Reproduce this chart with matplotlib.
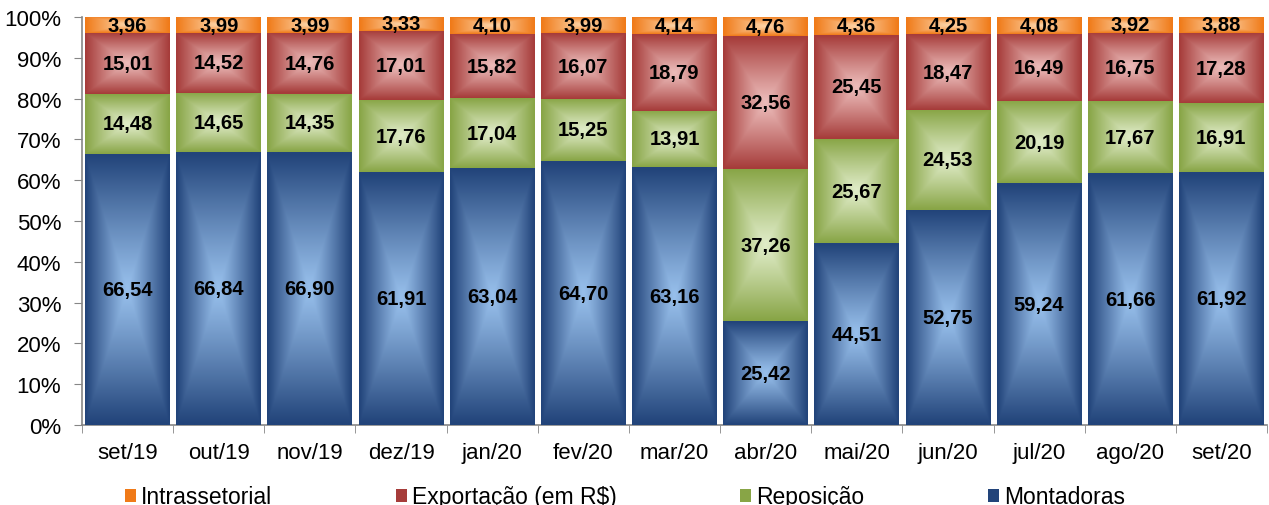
import numpy as np
import matplotlib
matplotlib.use('Agg')
import matplotlib.pyplot as plt
from matplotlib.colors import to_rgb
from matplotlib.patches import Rectangle

plt.rcParams['font.family'] = ['Liberation Sans', 'DejaVu Sans']

months = ['set/19', 'out/19', 'nov/19', 'dez/19', 'jan/20', 'fev/20', 'mar/20',
          'abr/20', 'mai/20', 'jun/20', 'jul/20', 'ago/20', 'set/20']
montadoras = [66.54, 66.84, 66.90, 61.91, 63.04, 64.70, 63.16, 25.42, 44.51, 52.75, 59.24, 61.66, 61.92]
reposicao = [14.48, 14.65, 14.35, 17.76, 17.04, 15.25, 13.91, 37.26, 25.67, 24.53, 20.19, 17.67, 16.91]
exportacao = [15.01, 14.52, 14.76, 17.01, 15.82, 16.07, 18.79, 32.56, 25.45, 18.47, 16.49, 16.75, 17.28]
intrassetorial = [3.96, 3.99, 3.99, 3.33, 4.10, 3.99, 4.14, 4.76, 4.36, 4.25, 4.08, 3.92, 3.88]

series = [
    ('Montadoras', montadoras, '#22447a', '#98c0ec'),
    ('Reposição', reposicao, '#88a546', '#e0ecc8'),
    ('Exportação (em R$)', exportacao, '#a63c3a', '#ecbcba'),
    ('Intrassetorial', intrassetorial, '#f07a18', '#fdd4a8'),
]

# pillow-style gradient (light centre, dark edges)
n = 64
u = np.linspace(-1, 1, n)
U, V = np.meshgrid(u, u)
T = np.maximum(np.abs(U), np.abs(V)) ** 1.1


def grad_img(edge, centre):
    e = np.array(to_rgb(edge))
    c = np.array(to_rgb(centre))
    return c[None, None, :] * (1 - T[..., None]) + e[None, None, :] * T[..., None]


fig = plt.figure(figsize=(12.69, 5.06), dpi=100)
ax = fig.add_axes([82 / 1269, 1 - 426 / 506, 1185 / 1269, 408 / 506])

x = np.arange(len(months))
bottom = np.zeros(len(months))
handles = []
for name, vals, edge, centre in series:
    vals = np.array(vals)
    bars = ax.bar(x, vals, width=0.93, bottom=bottom, color=edge, linewidth=0, zorder=2)
    img = grad_img(edge, centre)
    for b, v, btm in zip(bars, vals, bottom):
        x0, y0 = b.get_x(), b.get_y()
        im = ax.imshow(img, extent=(x0, x0 + b.get_width(), y0, y0 + b.get_height()),
                       aspect='auto', zorder=3, interpolation='bilinear')
        im.set_clip_path(b)
        ax.text(b.get_x() + b.get_width() / 2, btm + v / 2, f'{v:.2f}'.replace('.', ','),
                ha='center', va='center', fontsize=14.5, fontweight='bold', zorder=5)
    handles.append((name, edge))
    bottom += vals

ax.set_xlim(-0.5, len(months) - 0.5)
ax.set_ylim(0, 100)
ax.set_yticks(np.arange(0, 101, 10))
ax.set_yticklabels([f'{v}%' for v in range(0, 101, 10)])
ax.set_xticks(x)
ax.set_xticklabels(months)
ax.set_xticks(np.arange(-0.5, len(months), 1), minor=True)
ax.tick_params(axis='x', which='major', length=0, pad=12, labelsize=16)
ax.tick_params(axis='x', which='minor', length=6, color='#868686', direction='out')
ax.tick_params(axis='y', length=6, color='#868686', labelsize=16, pad=9)
for s in ['top', 'right']:
    ax.spines[s].set_visible(False)
for s in ['left', 'bottom']:
    ax.spines[s].set_color('#868686')
    ax.spines[s].set_linewidth(1.2)

leg_handles = [Rectangle((0, 0), 1, 1, facecolor=c, edgecolor='none') for _, c in reversed(handles)]
leg_labels = [nm for nm, _ in reversed(handles)]
fig.legend(leg_handles, leg_labels, loc='center', bbox_to_anchor=(625 / 1269, 8 / 506),
           ncol=4, frameon=False, fontsize=16.5, handlelength=0.48, handleheight=0.48,
           handletextpad=0.22, columnspacing=5.4, borderpad=0)

fig.savefig('out.png', dpi=100)
